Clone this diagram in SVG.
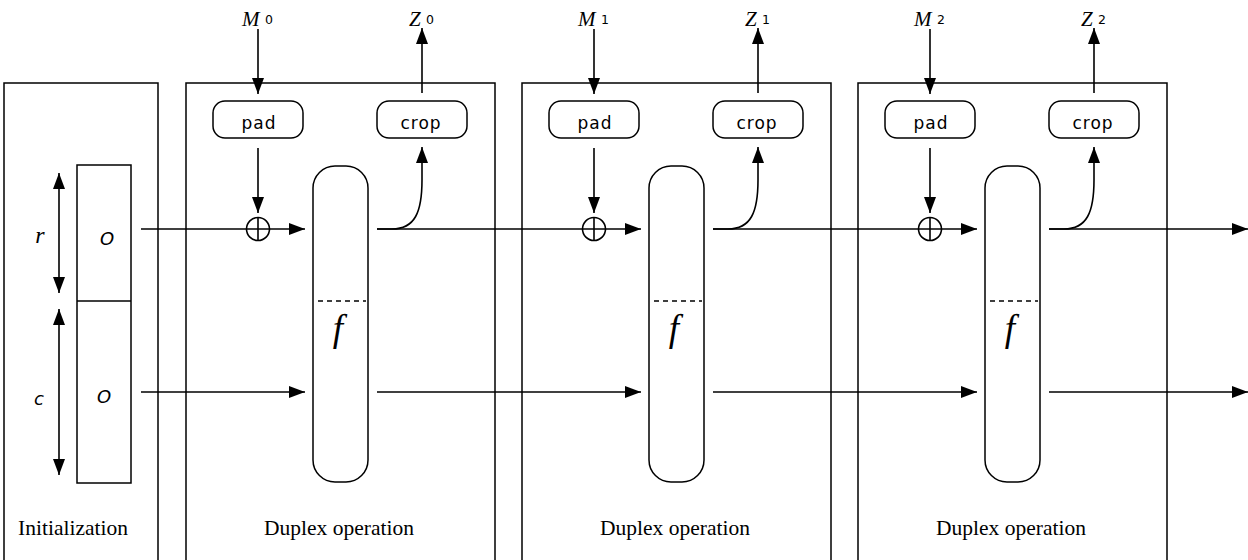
<svg xmlns="http://www.w3.org/2000/svg" width="1248" height="560" viewBox="0 0 1248 560">
  <style>
    .frame { fill: none; stroke: #000; stroke-width: 1.5; }
    .ln { fill: none; stroke: #000; stroke-width: 1.6; }
    .arr { fill: none; stroke: #000; stroke-width: 1.6; marker-end: url(#ah); }
    .dash { stroke: #000; stroke-width: 1.4; stroke-dasharray: 5 4; }
    .cap { font-family: "Liberation Serif", "DejaVu Serif", serif; font-size: 21.5px; fill: #000; text-anchor: middle; }
    .op { font-family: "DejaVu Sans", "Liberation Sans", sans-serif; font-size: 17px; fill: #000; text-anchor: middle; letter-spacing: 1px; }
    .var { font-family: "Liberation Serif", "DejaVu Serif", serif; font-style: italic; font-size: 21px; fill: #000; }
    .sub { font-family: "DejaVu Sans", "Liberation Sans", sans-serif; font-size: 12.5px; fill: #000; }
    .reg { font-family: "DejaVu Sans", "Liberation Sans", sans-serif; font-style: italic; font-size: 18px; fill: #000; text-anchor: middle; }
    .rv { font-family: "Liberation Serif", "DejaVu Serif", serif; font-style: italic; font-size: 24px; fill: #000; text-anchor: middle; }
    .fn { font-family: "Liberation Serif", "DejaVu Serif", serif; font-style: italic; font-size: 37px; fill: #000; text-anchor: middle; }
  </style>
  <defs>
    <marker id="ah" markerUnits="userSpaceOnUse" markerWidth="17" markerHeight="13" refX="16" refY="6" orient="auto-start-reverse">
      <path d="M0,0 L16,6 L0,12 Z" fill="#000"/>
    </marker>
  </defs>

  <!-- initialization stage -->
  <g id="init">
    <path class="frame" d="M4,562 V83 H158 V562"/>
    <rect class="frame" x="77" y="165" width="54" height="318"/>
    <line class="ln" x1="77" y1="301" x2="131" y2="301" stroke-width="2"/>
    <text class="reg" x="107" y="245">O</text>
    <text class="reg" x="104" y="403">O</text>
    <text class="rv" x="40" y="243">r</text>
    <text class="reg" x="39" y="405">c</text>
    <line class="arr" x1="59" y1="173" x2="59" y2="293" style="marker-start:url(#ah)"/>
    <line class="arr" x1="59" y1="309" x2="59" y2="475" style="marker-start:url(#ah)"/>
    <text class="cap" x="73" y="535">Initialization</text>
  </g>

  <!-- duplex stage 0 -->
  <g id="duplex0">
    <path class="frame" d="M186,562 V83 H495 V562"/>
    <rect class="frame" x="213" y="101" width="90" height="37" rx="12"/>
    <text class="op" x="259" y="129">pad</text>
    <rect class="frame" x="377" y="101" width="90" height="37" rx="12"/>
    <text class="op" x="421" y="129">crop</text>
    <rect class="frame" x="313" y="166" width="55" height="316" rx="22"/>
    <line class="dash" x1="318" y1="301" x2="366" y2="301"/>
    <text class="fn" x="338" y="341">f</text>
    <circle class="ln" cx="258" cy="229" r="11.5"/>
    <line class="ln" x1="258" y1="217.5" x2="258" y2="240.5"/>
    <text class="cap" x="339" y="535">Duplex operation</text>
  </g>

  <!-- duplex stage 1 -->
  <g id="duplex1">
    <path class="frame" d="M522,562 V83 H831 V562"/>
    <rect class="frame" x="549" y="101" width="90" height="37" rx="12"/>
    <text class="op" x="595" y="129">pad</text>
    <rect class="frame" x="713" y="101" width="90" height="37" rx="12"/>
    <text class="op" x="757" y="129">crop</text>
    <rect class="frame" x="649" y="166" width="55" height="316" rx="22"/>
    <line class="dash" x1="654" y1="301" x2="702" y2="301"/>
    <text class="fn" x="674" y="341">f</text>
    <circle class="ln" cx="594" cy="229" r="11.5"/>
    <line class="ln" x1="594" y1="217.5" x2="594" y2="240.5"/>
    <text class="cap" x="675" y="535">Duplex operation</text>
  </g>

  <!-- duplex stage 2 -->
  <g id="duplex2">
    <path class="frame" d="M858,562 V83 H1167 V562"/>
    <rect class="frame" x="885" y="101" width="90" height="37" rx="12"/>
    <text class="op" x="931" y="129">pad</text>
    <rect class="frame" x="1049" y="101" width="90" height="37" rx="12"/>
    <text class="op" x="1093" y="129">crop</text>
    <rect class="frame" x="985" y="166" width="55" height="316" rx="22"/>
    <line class="dash" x1="990" y1="301" x2="1038" y2="301"/>
    <text class="fn" x="1010" y="341">f</text>
    <circle class="ln" cx="930" cy="229" r="11.5"/>
    <line class="ln" x1="930" y1="217.5" x2="930" y2="240.5"/>
    <text class="cap" x="1011" y="535">Duplex operation</text>
  </g>

  <!-- message inputs and outputs -->
  <g id="io-labels">
    <text class="var" x="242" y="26">M</text><text class="sub" x="265" y="24">0</text>
    <text class="var" x="409" y="26">Z</text><text class="sub" x="426" y="24">0</text>
    <text class="var" x="578" y="26">M</text><text class="sub" x="601" y="24">1</text>
    <text class="var" x="745" y="26">Z</text><text class="sub" x="762" y="24">1</text>
    <text class="var" x="914" y="26">M</text><text class="sub" x="937" y="24">2</text>
    <text class="var" x="1081" y="26">Z</text><text class="sub" x="1098" y="24">2</text>
  </g>

  <!-- connectors -->
  <g id="connectors">
    <!-- message in -->
    <line class="arr" x1="258" y1="29" x2="258" y2="94"/>
    <line class="arr" x1="594" y1="29" x2="594" y2="94"/>
    <line class="arr" x1="930" y1="29" x2="930" y2="94"/>
    <!-- output out -->
    <line class="arr" x1="422" y1="93" x2="422" y2="28"/>
    <line class="arr" x1="758" y1="93" x2="758" y2="28"/>
    <line class="arr" x1="1094" y1="93" x2="1094" y2="28"/>
    <!-- pad to xor -->
    <line class="arr" x1="258" y1="148" x2="258" y2="213"/>
    <line class="arr" x1="594" y1="148" x2="594" y2="213"/>
    <line class="arr" x1="930" y1="148" x2="930" y2="213"/>
    <!-- rate part -->
    <line class="arr" x1="141" y1="229" x2="305" y2="229"/>
    <line class="arr" x1="377" y1="229" x2="641" y2="229"/>
    <line class="arr" x1="713" y1="229" x2="977" y2="229"/>
    <line class="arr" x1="1049" y1="229" x2="1248" y2="229"/>
    <!-- capacity part -->
    <line class="arr" x1="141" y1="392" x2="305" y2="392"/>
    <line class="arr" x1="377" y1="392" x2="641" y2="392"/>
    <line class="arr" x1="713" y1="392" x2="977" y2="392"/>
    <line class="arr" x1="1049" y1="392" x2="1248" y2="392"/>
    <!-- state to crop -->
    <path class="arr" d="M377,229 H392 C415,229 422,212 422,180 V147"/>
    <path class="arr" d="M713,229 H728 C751,229 758,212 758,180 V147"/>
    <path class="arr" d="M1049,229 H1064 C1087,229 1094,212 1094,180 V147"/>
  </g>
</svg>
